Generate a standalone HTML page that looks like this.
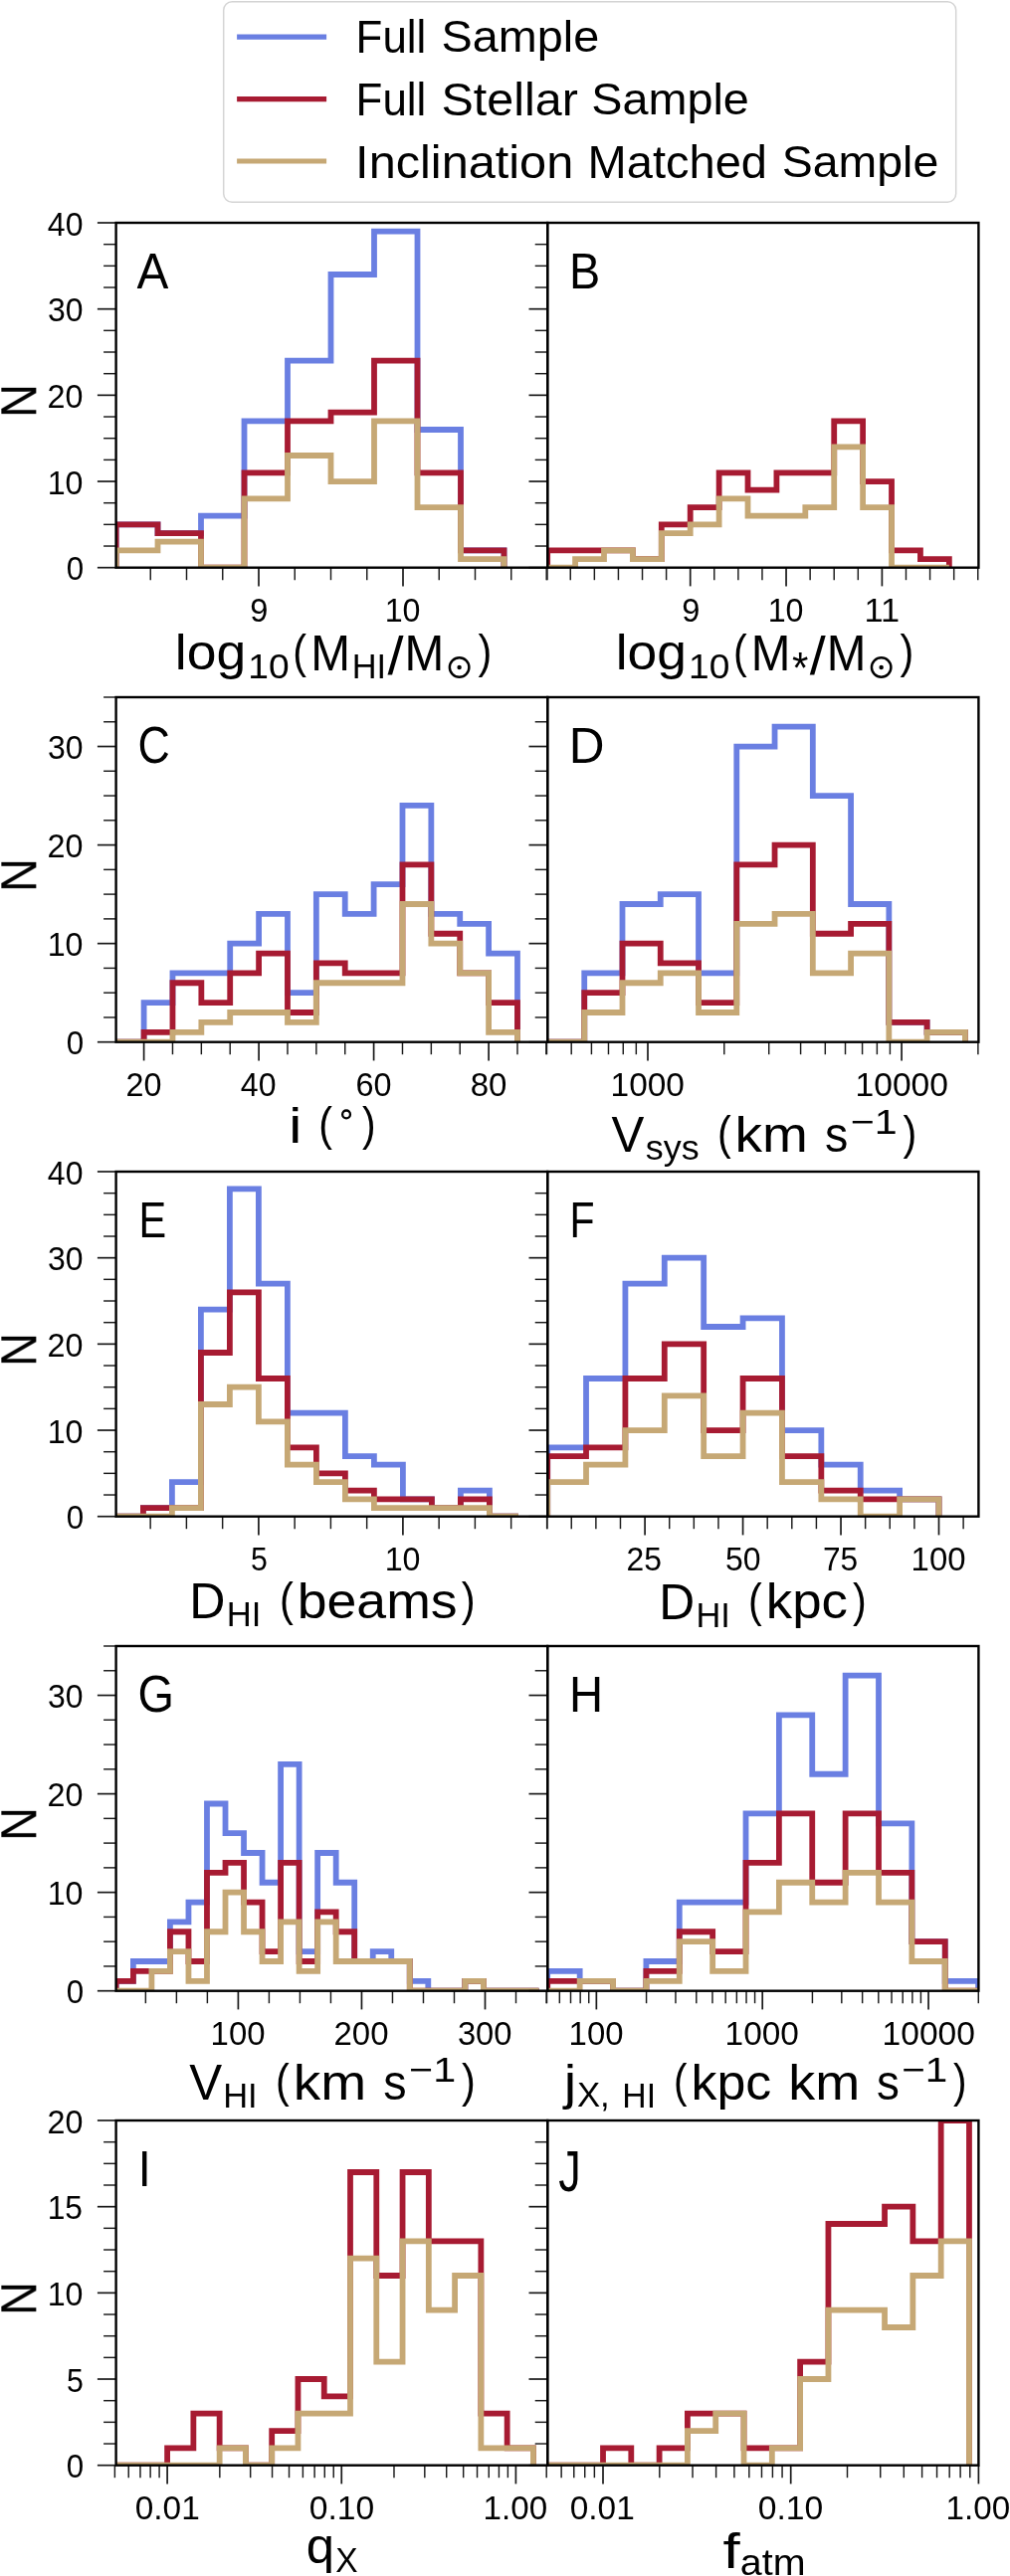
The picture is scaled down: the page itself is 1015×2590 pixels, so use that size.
<!DOCTYPE html>
<html><head><meta charset="utf-8"><title>Histograms</title>
<style>html,body{margin:0;padding:0;background:#fff;}svg{display:block;}text{font-family:"Liberation Sans",sans-serif;font-kerning:normal;}</style></head>
<body>
<svg width="1015" height="2590" viewBox="0 0 1015 2590">
<rect x="0" y="0" width="1015" height="2590" fill="#fff"/>
<defs>
<clipPath id="cA"><rect x="116.6" y="224" width="433.6" height="346.7"/></clipPath>
<clipPath id="cB"><rect x="550.2" y="224" width="433.2" height="346.7"/></clipPath>
<clipPath id="cC"><rect x="116.6" y="701" width="433.6" height="346.7"/></clipPath>
<clipPath id="cD"><rect x="550.2" y="701" width="433.2" height="346.7"/></clipPath>
<clipPath id="cE"><rect x="116.6" y="1178" width="433.6" height="346.7"/></clipPath>
<clipPath id="cF"><rect x="550.2" y="1178" width="433.2" height="346.7"/></clipPath>
<clipPath id="cG"><rect x="116.6" y="1655" width="433.6" height="346.7"/></clipPath>
<clipPath id="cH"><rect x="550.2" y="1655" width="433.2" height="346.7"/></clipPath>
<clipPath id="cI"><rect x="116.6" y="2132" width="433.6" height="346.7"/></clipPath>
<clipPath id="cJ"><rect x="550.2" y="2132" width="433.2" height="346.7"/></clipPath>
</defs>
<rect x="224.7" y="1.8" width="736" height="201.4" rx="8.5" ry="8.5" fill="#fff" stroke="#d4d4d4" stroke-width="1.5"/>
<line x1="238.1" y1="37.1" x2="328.1" y2="37.1" stroke="#6A7FE2" stroke-width="5.2"/>
<line x1="238.1" y1="99.7" x2="328.1" y2="99.7" stroke="#A71B32" stroke-width="5.2"/>
<line x1="238.1" y1="162" x2="328.1" y2="162" stroke="#C6A875" stroke-width="5.2"/>
<g clip-path="url(#cA)" fill="none" stroke-width="5.8" stroke-linejoin="miter" stroke-miterlimit="10" stroke-linecap="butt">
<path d="M116.6 570.7 L116.6 527.36 L158.5 527.36 L158.5 536.03 L202 536.03 L202 518.7 L245.5 518.7 L245.5 423.35 L289 423.35 L289 362.68 L332.5 362.68 L332.5 276.01 L376 276.01 L376 232.67 L419.5 232.67 L419.5 432.02 L463 432.02 L463 553.37 L506.5 553.37 L506.5 570.7" stroke="#6A7FE2"/>
<path d="M116.6 570.7 L116.6 527.36 L158.5 527.36 L158.5 536.03 L202 536.03 L202 570.7 L245.5 570.7 L245.5 475.36 L289 475.36 L289 423.35 L332.5 423.35 L332.5 414.69 L376 414.69 L376 362.68 L419.5 362.68 L419.5 475.36 L463 475.36 L463 553.37 L506.5 553.37 L506.5 570.7" stroke="#A71B32"/>
<path d="M116.6 570.7 L116.6 553.37 L158.5 553.37 L158.5 544.7 L202 544.7 L202 570.7 L245.5 570.7 L245.5 501.36 L289 501.36 L289 458.02 L332.5 458.02 L332.5 484.03 L376 484.03 L376 423.35 L419.5 423.35 L419.5 510.03 L463 510.03 L463 562.03 L506.5 562.03 L506.5 570.7" stroke="#C6A875"/>
</g>
<g clip-path="url(#cB)" fill="none" stroke-width="5.8" stroke-linejoin="miter" stroke-miterlimit="10" stroke-linecap="butt">
<path d="M550.2 570.7 L550.2 553.37 L578.08 553.37 L606.99 553.37 L635.89 553.37 L635.89 562.03 L664.79 562.03 L664.79 527.36 L693.7 527.36 L693.7 510.03 L722.61 510.03 L722.61 475.36 L751.51 475.36 L751.51 492.69 L780.42 492.69 L780.42 475.36 L809.32 475.36 L838.23 475.36 L838.23 423.35 L867.13 423.35 L867.13 484.03 L896.03 484.03 L896.03 553.37 L924.94 553.37 L924.94 562.03 L953.85 562.03 L953.85 570.7" stroke="#A71B32"/>
<path d="M550.2 570.7 L578.08 570.7 L578.08 562.03 L606.99 562.03 L606.99 553.37 L635.89 553.37 L635.89 562.03 L664.79 562.03 L664.79 536.03 L693.7 536.03 L693.7 527.36 L722.61 527.36 L722.61 501.36 L751.51 501.36 L751.51 518.7 L780.42 518.7 L809.32 518.7 L809.32 510.03 L838.23 510.03 L838.23 449.36 L867.13 449.36 L867.13 510.03 L896.03 510.03 L896.03 570.7 L924.94 570.7 L953.85 570.7" stroke="#C6A875"/>
</g>
<g clip-path="url(#cC)" fill="none" stroke-width="5.8" stroke-linejoin="miter" stroke-miterlimit="10" stroke-linecap="butt">
<path d="M116.6 1047.7 L144.6 1047.7 L144.6 1008.08 L173.47 1008.08 L173.47 978.36 L202.35 978.36 L231.22 978.36 L231.22 948.64 L260.1 948.64 L260.1 918.93 L288.98 918.93 L288.98 998.17 L317.85 998.17 L317.85 899.11 L346.73 899.11 L346.73 918.93 L375.6 918.93 L375.6 889.21 L404.48 889.21 L404.48 809.96 L433.35 809.96 L433.35 918.93 L462.23 918.93 L462.23 928.83 L491.1 928.83 L491.1 958.55 L519.98 958.55 L519.98 1047.7" stroke="#6A7FE2"/>
<path d="M116.6 1047.7 L144.6 1047.7 L144.6 1037.79 L173.47 1037.79 L173.47 988.27 L202.35 988.27 L202.35 1008.08 L231.22 1008.08 L231.22 978.36 L260.1 978.36 L260.1 958.55 L288.98 958.55 L288.98 1017.98 L317.85 1017.98 L317.85 968.45 L346.73 968.45 L346.73 978.36 L375.6 978.36 L404.48 978.36 L404.48 869.4 L433.35 869.4 L433.35 938.74 L462.23 938.74 L462.23 978.36 L491.1 978.36 L491.1 1008.08 L519.98 1008.08 L519.98 1047.7" stroke="#A71B32"/>
<path d="M116.6 1047.7 L144.6 1047.7 L173.47 1047.7 L173.47 1037.79 L202.35 1037.79 L202.35 1027.89 L231.22 1027.89 L231.22 1017.98 L260.1 1017.98 L288.98 1017.98 L288.98 1027.89 L317.85 1027.89 L317.85 988.27 L346.73 988.27 L375.6 988.27 L404.48 988.27 L404.48 909.02 L433.35 909.02 L433.35 948.64 L462.23 948.64 L462.23 978.36 L491.1 978.36 L491.1 1037.79 L519.98 1037.79 L519.98 1047.7" stroke="#C6A875"/>
</g>
<g clip-path="url(#cD)" fill="none" stroke-width="5.8" stroke-linejoin="miter" stroke-miterlimit="10" stroke-linecap="butt">
<path d="M550.2 1047.7 L587.23 1047.7 L587.23 978.36 L625.49 978.36 L625.49 909.02 L663.75 909.02 L663.75 899.11 L702.02 899.11 L702.02 978.36 L740.29 978.36 L740.29 750.53 L778.55 750.53 L778.55 730.72 L816.82 730.72 L816.82 800.06 L855.08 800.06 L855.08 909.02 L893.35 909.02 L893.35 1027.89 L931.61 1027.89 L931.61 1037.79 L969.88 1037.79 L969.88 1047.7" stroke="#6A7FE2"/>
<path d="M550.2 1047.7 L587.23 1047.7 L587.23 998.17 L625.49 998.17 L625.49 948.64 L663.75 948.64 L663.75 968.45 L702.02 968.45 L702.02 1008.08 L740.29 1008.08 L740.29 869.4 L778.55 869.4 L778.55 849.59 L816.82 849.59 L816.82 938.74 L855.08 938.74 L855.08 928.83 L893.35 928.83 L893.35 1027.89 L931.61 1027.89 L931.61 1037.79 L969.88 1037.79 L969.88 1047.7" stroke="#A71B32"/>
<path d="M550.2 1047.7 L587.23 1047.7 L587.23 1017.98 L625.49 1017.98 L625.49 988.27 L663.75 988.27 L663.75 978.36 L702.02 978.36 L702.02 1017.98 L740.29 1017.98 L740.29 928.83 L778.55 928.83 L778.55 918.93 L816.82 918.93 L816.82 978.36 L855.08 978.36 L855.08 958.55 L893.35 958.55 L893.35 1047.7 L931.61 1047.7 L931.61 1037.79 L969.88 1037.79 L969.88 1047.7" stroke="#C6A875"/>
</g>
<g clip-path="url(#cE)" fill="none" stroke-width="5.8" stroke-linejoin="miter" stroke-miterlimit="10" stroke-linecap="butt">
<path d="M116.6 1524.7 L143.9 1524.7 L143.9 1516.03 L172.9 1516.03 L172.9 1490.03 L201.9 1490.03 L201.9 1316.68 L230.9 1316.68 L230.9 1195.34 L259.9 1195.34 L259.9 1290.68 L288.9 1290.68 L288.9 1420.69 L317.9 1420.69 L346.9 1420.69 L346.9 1464.03 L375.9 1464.03 L375.9 1472.69 L404.9 1472.69 L404.9 1507.37 L433.9 1507.37 L433.9 1516.03 L462.9 1516.03 L462.9 1498.7 L491.9 1498.7 L491.9 1524.7 L520.9 1524.7" stroke="#6A7FE2"/>
<path d="M116.6 1524.7 L143.9 1524.7 L143.9 1516.03 L172.9 1516.03 L201.9 1516.03 L201.9 1360.02 L230.9 1360.02 L230.9 1299.35 L259.9 1299.35 L259.9 1386.02 L288.9 1386.02 L288.9 1455.36 L317.9 1455.36 L317.9 1481.36 L346.9 1481.36 L346.9 1498.7 L375.9 1498.7 L375.9 1507.37 L404.9 1507.37 L433.9 1507.37 L433.9 1516.03 L462.9 1516.03 L462.9 1507.37 L491.9 1507.37 L491.9 1524.7 L520.9 1524.7" stroke="#A71B32"/>
<path d="M116.6 1524.7 L143.9 1524.7 L172.9 1524.7 L172.9 1516.03 L201.9 1516.03 L201.9 1412.02 L230.9 1412.02 L230.9 1394.69 L259.9 1394.69 L259.9 1429.36 L288.9 1429.36 L288.9 1472.69 L317.9 1472.69 L317.9 1490.03 L346.9 1490.03 L346.9 1507.37 L375.9 1507.37 L375.9 1516.03 L404.9 1516.03 L433.9 1516.03 L462.9 1516.03 L491.9 1516.03 L491.9 1524.7 L520.9 1524.7" stroke="#C6A875"/>
</g>
<g clip-path="url(#cF)" fill="none" stroke-width="5.8" stroke-linejoin="miter" stroke-miterlimit="10" stroke-linecap="butt">
<path d="M550.2 1524.7 L550.2 1455.36 L589.02 1455.36 L589.02 1386.02 L628.41 1386.02 L628.41 1290.68 L667.79 1290.68 L667.79 1264.67 L707.18 1264.67 L707.18 1334.02 L746.57 1334.02 L746.57 1325.35 L785.95 1325.35 L785.95 1438.03 L825.34 1438.03 L825.34 1472.69 L864.73 1472.69 L864.73 1498.7 L904.12 1498.7 L904.12 1507.37 L943.5 1507.37 L943.5 1524.7" stroke="#6A7FE2"/>
<path d="M550.2 1524.7 L550.2 1464.03 L589.02 1464.03 L589.02 1455.36 L628.41 1455.36 L628.41 1386.02 L667.79 1386.02 L667.79 1351.35 L707.18 1351.35 L707.18 1438.03 L746.57 1438.03 L746.57 1386.02 L785.95 1386.02 L785.95 1464.03 L825.34 1464.03 L825.34 1498.7 L864.73 1498.7 L864.73 1507.37 L904.12 1507.37 L943.5 1507.37 L943.5 1524.7" stroke="#A71B32"/>
<path d="M550.2 1524.7 L550.2 1490.03 L589.02 1490.03 L589.02 1472.69 L628.41 1472.69 L628.41 1438.03 L667.79 1438.03 L667.79 1403.36 L707.18 1403.36 L707.18 1464.03 L746.57 1464.03 L746.57 1420.69 L785.95 1420.69 L785.95 1490.03 L825.34 1490.03 L825.34 1507.37 L864.73 1507.37 L864.73 1524.7 L904.12 1524.7 L904.12 1507.37 L943.5 1507.37 L943.5 1524.7" stroke="#C6A875"/>
</g>
<g clip-path="url(#cG)" fill="none" stroke-width="5.8" stroke-linejoin="miter" stroke-miterlimit="10" stroke-linecap="butt">
<path d="M116.6 2001.7 L116.6 1991.79 L133.88 1991.79 L133.88 1971.98 L152.4 1971.98 L170.93 1971.98 L170.93 1932.36 L189.46 1932.36 L189.46 1912.55 L207.98 1912.55 L207.98 1813.49 L226.51 1813.49 L226.51 1843.21 L245.04 1843.21 L245.04 1863.02 L263.56 1863.02 L263.56 1892.74 L282.09 1892.74 L282.09 1773.87 L300.62 1773.87 L300.62 1962.08 L319.15 1962.08 L319.15 1863.02 L337.67 1863.02 L337.67 1892.74 L356.2 1892.74 L356.2 1971.98 L374.73 1971.98 L374.73 1962.08 L393.25 1962.08 L393.25 1971.98 L411.78 1971.98 L411.78 1991.79 L430.31 1991.79 L430.31 2001.7 L448.83 2001.7 L467.36 2001.7 L467.36 1991.79 L485.89 1991.79 L485.89 2001.7 L504.41 2001.7 L522.94 2001.7 L541.47 2001.7" stroke="#6A7FE2"/>
<path d="M116.6 2001.7 L116.6 1991.79 L133.88 1991.79 L133.88 1981.89 L152.4 1981.89 L170.93 1981.89 L170.93 1942.27 L189.46 1942.27 L189.46 1971.98 L207.98 1971.98 L207.98 1882.83 L226.51 1882.83 L226.51 1872.93 L245.04 1872.93 L245.04 1912.55 L263.56 1912.55 L263.56 1962.08 L282.09 1962.08 L282.09 1872.93 L300.62 1872.93 L300.62 1971.98 L319.15 1971.98 L319.15 1922.45 L337.67 1922.45 L337.67 1942.27 L356.2 1942.27 L356.2 1971.98 L374.73 1971.98 L393.25 1971.98 L411.78 1971.98 L411.78 2001.7 L430.31 2001.7 L448.83 2001.7 L467.36 2001.7 L467.36 1991.79 L485.89 1991.79 L485.89 2001.7 L504.41 2001.7 L522.94 2001.7 L541.47 2001.7" stroke="#A71B32"/>
<path d="M116.6 2001.7 L133.88 2001.7 L152.4 2001.7 L152.4 1981.89 L170.93 1981.89 L170.93 1962.08 L189.46 1962.08 L189.46 1991.79 L207.98 1991.79 L207.98 1942.27 L226.51 1942.27 L226.51 1902.64 L245.04 1902.64 L245.04 1942.27 L263.56 1942.27 L263.56 1971.98 L282.09 1971.98 L282.09 1932.36 L300.62 1932.36 L300.62 1981.89 L319.15 1981.89 L319.15 1932.36 L337.67 1932.36 L337.67 1971.98 L356.2 1971.98 L374.73 1971.98 L393.25 1971.98 L411.78 1971.98 L411.78 2001.7 L430.31 2001.7 L448.83 2001.7 L467.36 2001.7 L467.36 1991.79 L485.89 1991.79 L485.89 2001.7 L504.41 2001.7 L522.94 2001.7 L541.47 2001.7" stroke="#C6A875"/>
</g>
<g clip-path="url(#cH)" fill="none" stroke-width="5.8" stroke-linejoin="miter" stroke-miterlimit="10" stroke-linecap="butt">
<path d="M550.2 2001.7 L550.2 1981.89 L582.66 1981.89 L582.66 1991.79 L616.04 1991.79 L616.04 2001.7 L649.4 2001.7 L649.4 1971.98 L682.77 1971.98 L682.77 1912.55 L716.15 1912.55 L749.52 1912.55 L749.52 1823.4 L782.88 1823.4 L782.88 1724.34 L816.25 1724.34 L816.25 1783.77 L849.62 1783.77 L849.62 1684.72 L883 1684.72 L883 1833.3 L916.37 1833.3 L916.37 1952.17 L949.74 1952.17 L949.74 1991.79 L983.11 1991.79 L983.11 2001.7" stroke="#6A7FE2"/>
<path d="M550.2 2001.7 L550.2 1991.79 L582.66 1991.79 L616.04 1991.79 L616.04 2001.7 L649.4 2001.7 L649.4 1981.89 L682.77 1981.89 L682.77 1942.27 L716.15 1942.27 L716.15 1962.08 L749.52 1962.08 L749.52 1872.93 L782.88 1872.93 L782.88 1823.4 L816.25 1823.4 L816.25 1892.74 L849.62 1892.74 L849.62 1823.4 L883 1823.4 L883 1882.83 L916.37 1882.83 L916.37 1952.17 L949.74 1952.17 L949.74 2001.7 L983.11 2001.7" stroke="#A71B32"/>
<path d="M550.2 2001.7 L582.66 2001.7 L582.66 1991.79 L616.04 1991.79 L616.04 2001.7 L649.4 2001.7 L649.4 1991.79 L682.77 1991.79 L682.77 1952.17 L716.15 1952.17 L716.15 1981.89 L749.52 1981.89 L749.52 1922.45 L782.88 1922.45 L782.88 1892.74 L816.25 1892.74 L816.25 1912.55 L849.62 1912.55 L849.62 1882.83 L883 1882.83 L883 1912.55 L916.37 1912.55 L916.37 1971.98 L949.74 1971.98 L949.74 2001.7 L983.11 2001.7" stroke="#C6A875"/>
</g>
<g clip-path="url(#cI)" fill="none" stroke-width="5.8" stroke-linejoin="miter" stroke-miterlimit="10" stroke-linecap="butt">
<path d="M116.6 2478.7 L141.83 2478.7 L168.1 2478.7 L168.1 2461.36 L194.37 2461.36 L194.37 2426.69 L220.65 2426.69 L220.65 2461.36 L246.92 2461.36 L246.92 2478.7 L273.19 2478.7 L273.19 2444.03 L299.46 2444.03 L299.46 2392.02 L325.74 2392.02 L325.74 2409.36 L352.01 2409.36 L352.01 2184.01 L378.28 2184.01 L378.28 2288.01 L404.55 2288.01 L404.55 2184.01 L430.83 2184.01 L430.83 2253.34 L457.1 2253.34 L483.37 2253.34 L483.37 2426.69 L509.64 2426.69 L509.64 2461.36 L535.92 2461.36 L535.92 2478.7" stroke="#A71B32"/>
<path d="M116.6 2478.7 L141.83 2478.7 L168.1 2478.7 L194.37 2478.7 L220.65 2478.7 L220.65 2461.36 L246.92 2461.36 L246.92 2478.7 L273.19 2478.7 L273.19 2461.36 L299.46 2461.36 L299.46 2426.69 L325.74 2426.69 L352.01 2426.69 L352.01 2270.68 L378.28 2270.68 L378.28 2374.69 L404.55 2374.69 L404.55 2253.34 L430.83 2253.34 L430.83 2322.68 L457.1 2322.68 L457.1 2288.01 L483.37 2288.01 L483.37 2461.36 L509.64 2461.36 L535.92 2461.36 L535.92 2478.7" stroke="#C6A875"/>
</g>
<g clip-path="url(#cJ)" fill="none" stroke-width="5.8" stroke-linejoin="miter" stroke-miterlimit="10" stroke-linecap="butt">
<path d="M550.2 2478.7 L577.69 2478.7 L606 2478.7 L606 2461.36 L634.31 2461.36 L634.31 2478.7 L662.61 2478.7 L662.61 2461.36 L690.91 2461.36 L690.91 2426.69 L719.22 2426.69 L747.53 2426.69 L747.53 2461.36 L775.83 2461.36 L804.13 2461.36 L804.13 2374.69 L832.44 2374.69 L832.44 2236.01 L860.75 2236.01 L889.05 2236.01 L889.05 2218.68 L917.36 2218.68 L917.36 2253.34 L945.66 2253.34 L945.66 2132 L973.97 2132 L973.97 2478.7" stroke="#A71B32"/>
<path d="M550.2 2478.7 L577.69 2478.7 L606 2478.7 L634.31 2478.7 L662.61 2478.7 L690.91 2478.7 L690.91 2444.03 L719.22 2444.03 L719.22 2426.69 L747.53 2426.69 L747.53 2478.7 L775.83 2478.7 L775.83 2461.36 L804.13 2461.36 L804.13 2392.02 L832.44 2392.02 L832.44 2322.68 L860.75 2322.68 L889.05 2322.68 L889.05 2340.02 L917.36 2340.02 L917.36 2288.01 L945.66 2288.01 L945.66 2253.34 L973.97 2253.34 L973.97 2478.7" stroke="#C6A875"/>
</g>
<g stroke="#1a1a1a" stroke-linecap="butt">
<line x1="151.25" y1="570.7" x2="151.25" y2="583.2" stroke-width="1.45"/>
<line x1="187.5" y1="570.7" x2="187.5" y2="583.2" stroke-width="1.45"/>
<line x1="223.75" y1="570.7" x2="223.75" y2="583.2" stroke-width="1.45"/>
<line x1="296.25" y1="570.7" x2="296.25" y2="583.2" stroke-width="1.45"/>
<line x1="332.5" y1="570.7" x2="332.5" y2="583.2" stroke-width="1.45"/>
<line x1="368.75" y1="570.7" x2="368.75" y2="583.2" stroke-width="1.45"/>
<line x1="441.25" y1="570.7" x2="441.25" y2="583.2" stroke-width="1.45"/>
<line x1="477.5" y1="570.7" x2="477.5" y2="583.2" stroke-width="1.45"/>
<line x1="513.75" y1="570.7" x2="513.75" y2="583.2" stroke-width="1.45"/>
<line x1="550" y1="570.7" x2="550" y2="583.2" stroke-width="1.45"/>
<line x1="260" y1="570.7" x2="260" y2="589.4" stroke-width="1.7"/>
<line x1="405" y1="570.7" x2="405" y2="589.4" stroke-width="1.7"/>
<line x1="97.9" y1="570.7" x2="116.6" y2="570.7" stroke-width="1.7"/>
<line x1="104.1" y1="549.03" x2="116.6" y2="549.03" stroke-width="1.45"/>
<line x1="104.1" y1="527.36" x2="116.6" y2="527.36" stroke-width="1.45"/>
<line x1="104.1" y1="505.69" x2="116.6" y2="505.69" stroke-width="1.45"/>
<line x1="97.9" y1="484.03" x2="116.6" y2="484.03" stroke-width="1.7"/>
<line x1="104.1" y1="462.36" x2="116.6" y2="462.36" stroke-width="1.45"/>
<line x1="104.1" y1="440.69" x2="116.6" y2="440.69" stroke-width="1.45"/>
<line x1="104.1" y1="419.02" x2="116.6" y2="419.02" stroke-width="1.45"/>
<line x1="97.9" y1="397.35" x2="116.6" y2="397.35" stroke-width="1.7"/>
<line x1="104.1" y1="375.68" x2="116.6" y2="375.68" stroke-width="1.45"/>
<line x1="104.1" y1="354.01" x2="116.6" y2="354.01" stroke-width="1.45"/>
<line x1="104.1" y1="332.34" x2="116.6" y2="332.34" stroke-width="1.45"/>
<line x1="97.9" y1="310.68" x2="116.6" y2="310.68" stroke-width="1.7"/>
<line x1="104.1" y1="289.01" x2="116.6" y2="289.01" stroke-width="1.45"/>
<line x1="104.1" y1="267.34" x2="116.6" y2="267.34" stroke-width="1.45"/>
<line x1="104.1" y1="245.67" x2="116.6" y2="245.67" stroke-width="1.45"/>
<line x1="97.9" y1="224" x2="116.6" y2="224" stroke-width="1.7"/>
<line x1="549.18" y1="570.7" x2="549.18" y2="583.2" stroke-width="1.45"/>
<line x1="573.26" y1="570.7" x2="573.26" y2="583.2" stroke-width="1.45"/>
<line x1="597.35" y1="570.7" x2="597.35" y2="583.2" stroke-width="1.45"/>
<line x1="621.44" y1="570.7" x2="621.44" y2="583.2" stroke-width="1.45"/>
<line x1="645.53" y1="570.7" x2="645.53" y2="583.2" stroke-width="1.45"/>
<line x1="669.61" y1="570.7" x2="669.61" y2="583.2" stroke-width="1.45"/>
<line x1="717.79" y1="570.7" x2="717.79" y2="583.2" stroke-width="1.45"/>
<line x1="741.88" y1="570.7" x2="741.88" y2="583.2" stroke-width="1.45"/>
<line x1="765.96" y1="570.7" x2="765.96" y2="583.2" stroke-width="1.45"/>
<line x1="814.14" y1="570.7" x2="814.14" y2="583.2" stroke-width="1.45"/>
<line x1="838.23" y1="570.7" x2="838.23" y2="583.2" stroke-width="1.45"/>
<line x1="862.31" y1="570.7" x2="862.31" y2="583.2" stroke-width="1.45"/>
<line x1="910.49" y1="570.7" x2="910.49" y2="583.2" stroke-width="1.45"/>
<line x1="934.58" y1="570.7" x2="934.58" y2="583.2" stroke-width="1.45"/>
<line x1="958.66" y1="570.7" x2="958.66" y2="583.2" stroke-width="1.45"/>
<line x1="982.75" y1="570.7" x2="982.75" y2="583.2" stroke-width="1.45"/>
<line x1="693.7" y1="570.7" x2="693.7" y2="589.4" stroke-width="1.7"/>
<line x1="790.05" y1="570.7" x2="790.05" y2="589.4" stroke-width="1.7"/>
<line x1="886.4" y1="570.7" x2="886.4" y2="589.4" stroke-width="1.7"/>
<line x1="531.5" y1="570.7" x2="550.2" y2="570.7" stroke-width="1.7"/>
<line x1="537.7" y1="549.03" x2="550.2" y2="549.03" stroke-width="1.45"/>
<line x1="537.7" y1="527.36" x2="550.2" y2="527.36" stroke-width="1.45"/>
<line x1="537.7" y1="505.69" x2="550.2" y2="505.69" stroke-width="1.45"/>
<line x1="531.5" y1="484.03" x2="550.2" y2="484.03" stroke-width="1.7"/>
<line x1="537.7" y1="462.36" x2="550.2" y2="462.36" stroke-width="1.45"/>
<line x1="537.7" y1="440.69" x2="550.2" y2="440.69" stroke-width="1.45"/>
<line x1="537.7" y1="419.02" x2="550.2" y2="419.02" stroke-width="1.45"/>
<line x1="531.5" y1="397.35" x2="550.2" y2="397.35" stroke-width="1.7"/>
<line x1="537.7" y1="375.68" x2="550.2" y2="375.68" stroke-width="1.45"/>
<line x1="537.7" y1="354.01" x2="550.2" y2="354.01" stroke-width="1.45"/>
<line x1="537.7" y1="332.34" x2="550.2" y2="332.34" stroke-width="1.45"/>
<line x1="531.5" y1="310.68" x2="550.2" y2="310.68" stroke-width="1.7"/>
<line x1="537.7" y1="289.01" x2="550.2" y2="289.01" stroke-width="1.45"/>
<line x1="537.7" y1="267.34" x2="550.2" y2="267.34" stroke-width="1.45"/>
<line x1="537.7" y1="245.67" x2="550.2" y2="245.67" stroke-width="1.45"/>
<line x1="531.5" y1="224" x2="550.2" y2="224" stroke-width="1.7"/>
<line x1="173.47" y1="1047.7" x2="173.47" y2="1060.2" stroke-width="1.45"/>
<line x1="202.35" y1="1047.7" x2="202.35" y2="1060.2" stroke-width="1.45"/>
<line x1="231.22" y1="1047.7" x2="231.22" y2="1060.2" stroke-width="1.45"/>
<line x1="288.98" y1="1047.7" x2="288.98" y2="1060.2" stroke-width="1.45"/>
<line x1="317.85" y1="1047.7" x2="317.85" y2="1060.2" stroke-width="1.45"/>
<line x1="346.73" y1="1047.7" x2="346.73" y2="1060.2" stroke-width="1.45"/>
<line x1="404.48" y1="1047.7" x2="404.48" y2="1060.2" stroke-width="1.45"/>
<line x1="433.35" y1="1047.7" x2="433.35" y2="1060.2" stroke-width="1.45"/>
<line x1="462.23" y1="1047.7" x2="462.23" y2="1060.2" stroke-width="1.45"/>
<line x1="519.98" y1="1047.7" x2="519.98" y2="1060.2" stroke-width="1.45"/>
<line x1="548.85" y1="1047.7" x2="548.85" y2="1060.2" stroke-width="1.45"/>
<line x1="144.6" y1="1047.7" x2="144.6" y2="1066.4" stroke-width="1.7"/>
<line x1="260.1" y1="1047.7" x2="260.1" y2="1066.4" stroke-width="1.7"/>
<line x1="375.6" y1="1047.7" x2="375.6" y2="1066.4" stroke-width="1.7"/>
<line x1="491.1" y1="1047.7" x2="491.1" y2="1066.4" stroke-width="1.7"/>
<line x1="97.9" y1="1047.7" x2="116.6" y2="1047.7" stroke-width="1.7"/>
<line x1="104.1" y1="1022.94" x2="116.6" y2="1022.94" stroke-width="1.45"/>
<line x1="104.1" y1="998.17" x2="116.6" y2="998.17" stroke-width="1.45"/>
<line x1="104.1" y1="973.41" x2="116.6" y2="973.41" stroke-width="1.45"/>
<line x1="97.9" y1="948.64" x2="116.6" y2="948.64" stroke-width="1.7"/>
<line x1="104.1" y1="923.88" x2="116.6" y2="923.88" stroke-width="1.45"/>
<line x1="104.1" y1="899.11" x2="116.6" y2="899.11" stroke-width="1.45"/>
<line x1="104.1" y1="874.35" x2="116.6" y2="874.35" stroke-width="1.45"/>
<line x1="97.9" y1="849.59" x2="116.6" y2="849.59" stroke-width="1.7"/>
<line x1="104.1" y1="824.82" x2="116.6" y2="824.82" stroke-width="1.45"/>
<line x1="104.1" y1="800.06" x2="116.6" y2="800.06" stroke-width="1.45"/>
<line x1="104.1" y1="775.29" x2="116.6" y2="775.29" stroke-width="1.45"/>
<line x1="97.9" y1="750.53" x2="116.6" y2="750.53" stroke-width="1.7"/>
<line x1="104.1" y1="725.76" x2="116.6" y2="725.76" stroke-width="1.45"/>
<line x1="104.1" y1="701" x2="116.6" y2="701" stroke-width="1.45"/>
<line x1="549.49" y1="1047.7" x2="549.49" y2="1060.2" stroke-width="1.45"/>
<line x1="574.21" y1="1047.7" x2="574.21" y2="1060.2" stroke-width="1.45"/>
<line x1="594.41" y1="1047.7" x2="594.41" y2="1060.2" stroke-width="1.45"/>
<line x1="611.48" y1="1047.7" x2="611.48" y2="1060.2" stroke-width="1.45"/>
<line x1="626.28" y1="1047.7" x2="626.28" y2="1060.2" stroke-width="1.45"/>
<line x1="639.33" y1="1047.7" x2="639.33" y2="1060.2" stroke-width="1.45"/>
<line x1="727.79" y1="1047.7" x2="727.79" y2="1060.2" stroke-width="1.45"/>
<line x1="772.71" y1="1047.7" x2="772.71" y2="1060.2" stroke-width="1.45"/>
<line x1="804.59" y1="1047.7" x2="804.59" y2="1060.2" stroke-width="1.45"/>
<line x1="829.31" y1="1047.7" x2="829.31" y2="1060.2" stroke-width="1.45"/>
<line x1="849.51" y1="1047.7" x2="849.51" y2="1060.2" stroke-width="1.45"/>
<line x1="866.58" y1="1047.7" x2="866.58" y2="1060.2" stroke-width="1.45"/>
<line x1="881.38" y1="1047.7" x2="881.38" y2="1060.2" stroke-width="1.45"/>
<line x1="894.43" y1="1047.7" x2="894.43" y2="1060.2" stroke-width="1.45"/>
<line x1="982.89" y1="1047.7" x2="982.89" y2="1060.2" stroke-width="1.45"/>
<line x1="651" y1="1047.7" x2="651" y2="1066.4" stroke-width="1.7"/>
<line x1="906.1" y1="1047.7" x2="906.1" y2="1066.4" stroke-width="1.7"/>
<line x1="531.5" y1="1047.7" x2="550.2" y2="1047.7" stroke-width="1.7"/>
<line x1="537.7" y1="1022.94" x2="550.2" y2="1022.94" stroke-width="1.45"/>
<line x1="537.7" y1="998.17" x2="550.2" y2="998.17" stroke-width="1.45"/>
<line x1="537.7" y1="973.41" x2="550.2" y2="973.41" stroke-width="1.45"/>
<line x1="531.5" y1="948.64" x2="550.2" y2="948.64" stroke-width="1.7"/>
<line x1="537.7" y1="923.88" x2="550.2" y2="923.88" stroke-width="1.45"/>
<line x1="537.7" y1="899.11" x2="550.2" y2="899.11" stroke-width="1.45"/>
<line x1="537.7" y1="874.35" x2="550.2" y2="874.35" stroke-width="1.45"/>
<line x1="531.5" y1="849.59" x2="550.2" y2="849.59" stroke-width="1.7"/>
<line x1="537.7" y1="824.82" x2="550.2" y2="824.82" stroke-width="1.45"/>
<line x1="537.7" y1="800.06" x2="550.2" y2="800.06" stroke-width="1.45"/>
<line x1="537.7" y1="775.29" x2="550.2" y2="775.29" stroke-width="1.45"/>
<line x1="531.5" y1="750.53" x2="550.2" y2="750.53" stroke-width="1.7"/>
<line x1="537.7" y1="725.76" x2="550.2" y2="725.76" stroke-width="1.45"/>
<line x1="537.7" y1="701" x2="550.2" y2="701" stroke-width="1.45"/>
<line x1="151.15" y1="1524.7" x2="151.15" y2="1537.2" stroke-width="1.45"/>
<line x1="187.4" y1="1524.7" x2="187.4" y2="1537.2" stroke-width="1.45"/>
<line x1="223.65" y1="1524.7" x2="223.65" y2="1537.2" stroke-width="1.45"/>
<line x1="296.15" y1="1524.7" x2="296.15" y2="1537.2" stroke-width="1.45"/>
<line x1="332.4" y1="1524.7" x2="332.4" y2="1537.2" stroke-width="1.45"/>
<line x1="368.65" y1="1524.7" x2="368.65" y2="1537.2" stroke-width="1.45"/>
<line x1="441.15" y1="1524.7" x2="441.15" y2="1537.2" stroke-width="1.45"/>
<line x1="477.4" y1="1524.7" x2="477.4" y2="1537.2" stroke-width="1.45"/>
<line x1="513.65" y1="1524.7" x2="513.65" y2="1537.2" stroke-width="1.45"/>
<line x1="549.9" y1="1524.7" x2="549.9" y2="1537.2" stroke-width="1.45"/>
<line x1="259.9" y1="1524.7" x2="259.9" y2="1543.4" stroke-width="1.7"/>
<line x1="404.9" y1="1524.7" x2="404.9" y2="1543.4" stroke-width="1.7"/>
<line x1="97.9" y1="1524.7" x2="116.6" y2="1524.7" stroke-width="1.7"/>
<line x1="104.1" y1="1503.03" x2="116.6" y2="1503.03" stroke-width="1.45"/>
<line x1="104.1" y1="1481.36" x2="116.6" y2="1481.36" stroke-width="1.45"/>
<line x1="104.1" y1="1459.69" x2="116.6" y2="1459.69" stroke-width="1.45"/>
<line x1="97.9" y1="1438.03" x2="116.6" y2="1438.03" stroke-width="1.7"/>
<line x1="104.1" y1="1416.36" x2="116.6" y2="1416.36" stroke-width="1.45"/>
<line x1="104.1" y1="1394.69" x2="116.6" y2="1394.69" stroke-width="1.45"/>
<line x1="104.1" y1="1373.02" x2="116.6" y2="1373.02" stroke-width="1.45"/>
<line x1="97.9" y1="1351.35" x2="116.6" y2="1351.35" stroke-width="1.7"/>
<line x1="104.1" y1="1329.68" x2="116.6" y2="1329.68" stroke-width="1.45"/>
<line x1="104.1" y1="1308.01" x2="116.6" y2="1308.01" stroke-width="1.45"/>
<line x1="104.1" y1="1286.34" x2="116.6" y2="1286.34" stroke-width="1.45"/>
<line x1="97.9" y1="1264.67" x2="116.6" y2="1264.67" stroke-width="1.7"/>
<line x1="104.1" y1="1243.01" x2="116.6" y2="1243.01" stroke-width="1.45"/>
<line x1="104.1" y1="1221.34" x2="116.6" y2="1221.34" stroke-width="1.45"/>
<line x1="104.1" y1="1199.67" x2="116.6" y2="1199.67" stroke-width="1.45"/>
<line x1="97.9" y1="1178" x2="116.6" y2="1178" stroke-width="1.7"/>
<line x1="549.63" y1="1524.7" x2="549.63" y2="1537.2" stroke-width="1.45"/>
<line x1="574.25" y1="1524.7" x2="574.25" y2="1537.2" stroke-width="1.45"/>
<line x1="598.87" y1="1524.7" x2="598.87" y2="1537.2" stroke-width="1.45"/>
<line x1="623.48" y1="1524.7" x2="623.48" y2="1537.2" stroke-width="1.45"/>
<line x1="672.72" y1="1524.7" x2="672.72" y2="1537.2" stroke-width="1.45"/>
<line x1="697.33" y1="1524.7" x2="697.33" y2="1537.2" stroke-width="1.45"/>
<line x1="721.95" y1="1524.7" x2="721.95" y2="1537.2" stroke-width="1.45"/>
<line x1="771.18" y1="1524.7" x2="771.18" y2="1537.2" stroke-width="1.45"/>
<line x1="795.8" y1="1524.7" x2="795.8" y2="1537.2" stroke-width="1.45"/>
<line x1="820.42" y1="1524.7" x2="820.42" y2="1537.2" stroke-width="1.45"/>
<line x1="869.65" y1="1524.7" x2="869.65" y2="1537.2" stroke-width="1.45"/>
<line x1="894.27" y1="1524.7" x2="894.27" y2="1537.2" stroke-width="1.45"/>
<line x1="918.89" y1="1524.7" x2="918.89" y2="1537.2" stroke-width="1.45"/>
<line x1="968.12" y1="1524.7" x2="968.12" y2="1537.2" stroke-width="1.45"/>
<line x1="648.1" y1="1524.7" x2="648.1" y2="1543.4" stroke-width="1.7"/>
<line x1="746.57" y1="1524.7" x2="746.57" y2="1543.4" stroke-width="1.7"/>
<line x1="845.04" y1="1524.7" x2="845.04" y2="1543.4" stroke-width="1.7"/>
<line x1="943.5" y1="1524.7" x2="943.5" y2="1543.4" stroke-width="1.7"/>
<line x1="531.5" y1="1524.7" x2="550.2" y2="1524.7" stroke-width="1.7"/>
<line x1="537.7" y1="1503.03" x2="550.2" y2="1503.03" stroke-width="1.45"/>
<line x1="537.7" y1="1481.36" x2="550.2" y2="1481.36" stroke-width="1.45"/>
<line x1="537.7" y1="1459.69" x2="550.2" y2="1459.69" stroke-width="1.45"/>
<line x1="531.5" y1="1438.03" x2="550.2" y2="1438.03" stroke-width="1.7"/>
<line x1="537.7" y1="1416.36" x2="550.2" y2="1416.36" stroke-width="1.45"/>
<line x1="537.7" y1="1394.69" x2="550.2" y2="1394.69" stroke-width="1.45"/>
<line x1="537.7" y1="1373.02" x2="550.2" y2="1373.02" stroke-width="1.45"/>
<line x1="531.5" y1="1351.35" x2="550.2" y2="1351.35" stroke-width="1.7"/>
<line x1="537.7" y1="1329.68" x2="550.2" y2="1329.68" stroke-width="1.45"/>
<line x1="537.7" y1="1308.01" x2="550.2" y2="1308.01" stroke-width="1.45"/>
<line x1="537.7" y1="1286.34" x2="550.2" y2="1286.34" stroke-width="1.45"/>
<line x1="531.5" y1="1264.67" x2="550.2" y2="1264.67" stroke-width="1.7"/>
<line x1="537.7" y1="1243.01" x2="550.2" y2="1243.01" stroke-width="1.45"/>
<line x1="537.7" y1="1221.34" x2="550.2" y2="1221.34" stroke-width="1.45"/>
<line x1="537.7" y1="1199.67" x2="550.2" y2="1199.67" stroke-width="1.45"/>
<line x1="531.5" y1="1178" x2="550.2" y2="1178" stroke-width="1.7"/>
<line x1="146.36" y1="2001.7" x2="146.36" y2="2014.2" stroke-width="1.45"/>
<line x1="177.38" y1="2001.7" x2="177.38" y2="2014.2" stroke-width="1.45"/>
<line x1="208.39" y1="2001.7" x2="208.39" y2="2014.2" stroke-width="1.45"/>
<line x1="270.41" y1="2001.7" x2="270.41" y2="2014.2" stroke-width="1.45"/>
<line x1="301.43" y1="2001.7" x2="301.43" y2="2014.2" stroke-width="1.45"/>
<line x1="332.44" y1="2001.7" x2="332.44" y2="2014.2" stroke-width="1.45"/>
<line x1="394.46" y1="2001.7" x2="394.46" y2="2014.2" stroke-width="1.45"/>
<line x1="425.48" y1="2001.7" x2="425.48" y2="2014.2" stroke-width="1.45"/>
<line x1="456.49" y1="2001.7" x2="456.49" y2="2014.2" stroke-width="1.45"/>
<line x1="518.51" y1="2001.7" x2="518.51" y2="2014.2" stroke-width="1.45"/>
<line x1="549.52" y1="2001.7" x2="549.52" y2="2014.2" stroke-width="1.45"/>
<line x1="239.4" y1="2001.7" x2="239.4" y2="2020.4" stroke-width="1.7"/>
<line x1="363.45" y1="2001.7" x2="363.45" y2="2020.4" stroke-width="1.7"/>
<line x1="487.5" y1="2001.7" x2="487.5" y2="2020.4" stroke-width="1.7"/>
<line x1="97.9" y1="2001.7" x2="116.6" y2="2001.7" stroke-width="1.7"/>
<line x1="104.1" y1="1976.94" x2="116.6" y2="1976.94" stroke-width="1.45"/>
<line x1="104.1" y1="1952.17" x2="116.6" y2="1952.17" stroke-width="1.45"/>
<line x1="104.1" y1="1927.41" x2="116.6" y2="1927.41" stroke-width="1.45"/>
<line x1="97.9" y1="1902.64" x2="116.6" y2="1902.64" stroke-width="1.7"/>
<line x1="104.1" y1="1877.88" x2="116.6" y2="1877.88" stroke-width="1.45"/>
<line x1="104.1" y1="1853.11" x2="116.6" y2="1853.11" stroke-width="1.45"/>
<line x1="104.1" y1="1828.35" x2="116.6" y2="1828.35" stroke-width="1.45"/>
<line x1="97.9" y1="1803.59" x2="116.6" y2="1803.59" stroke-width="1.7"/>
<line x1="104.1" y1="1778.82" x2="116.6" y2="1778.82" stroke-width="1.45"/>
<line x1="104.1" y1="1754.06" x2="116.6" y2="1754.06" stroke-width="1.45"/>
<line x1="104.1" y1="1729.29" x2="116.6" y2="1729.29" stroke-width="1.45"/>
<line x1="97.9" y1="1704.53" x2="116.6" y2="1704.53" stroke-width="1.7"/>
<line x1="104.1" y1="1679.76" x2="116.6" y2="1679.76" stroke-width="1.45"/>
<line x1="104.1" y1="1655" x2="116.6" y2="1655" stroke-width="1.45"/>
<line x1="549.12" y1="2001.7" x2="549.12" y2="2014.2" stroke-width="1.45"/>
<line x1="562.33" y1="2001.7" x2="562.33" y2="2014.2" stroke-width="1.45"/>
<line x1="573.5" y1="2001.7" x2="573.5" y2="2014.2" stroke-width="1.45"/>
<line x1="583.18" y1="2001.7" x2="583.18" y2="2014.2" stroke-width="1.45"/>
<line x1="591.72" y1="2001.7" x2="591.72" y2="2014.2" stroke-width="1.45"/>
<line x1="649.58" y1="2001.7" x2="649.58" y2="2014.2" stroke-width="1.45"/>
<line x1="678.96" y1="2001.7" x2="678.96" y2="2014.2" stroke-width="1.45"/>
<line x1="699.8" y1="2001.7" x2="699.8" y2="2014.2" stroke-width="1.45"/>
<line x1="715.97" y1="2001.7" x2="715.97" y2="2014.2" stroke-width="1.45"/>
<line x1="729.18" y1="2001.7" x2="729.18" y2="2014.2" stroke-width="1.45"/>
<line x1="740.35" y1="2001.7" x2="740.35" y2="2014.2" stroke-width="1.45"/>
<line x1="750.03" y1="2001.7" x2="750.03" y2="2014.2" stroke-width="1.45"/>
<line x1="758.57" y1="2001.7" x2="758.57" y2="2014.2" stroke-width="1.45"/>
<line x1="816.43" y1="2001.7" x2="816.43" y2="2014.2" stroke-width="1.45"/>
<line x1="845.81" y1="2001.7" x2="845.81" y2="2014.2" stroke-width="1.45"/>
<line x1="866.65" y1="2001.7" x2="866.65" y2="2014.2" stroke-width="1.45"/>
<line x1="882.82" y1="2001.7" x2="882.82" y2="2014.2" stroke-width="1.45"/>
<line x1="896.03" y1="2001.7" x2="896.03" y2="2014.2" stroke-width="1.45"/>
<line x1="907.2" y1="2001.7" x2="907.2" y2="2014.2" stroke-width="1.45"/>
<line x1="916.88" y1="2001.7" x2="916.88" y2="2014.2" stroke-width="1.45"/>
<line x1="925.42" y1="2001.7" x2="925.42" y2="2014.2" stroke-width="1.45"/>
<line x1="983.28" y1="2001.7" x2="983.28" y2="2014.2" stroke-width="1.45"/>
<line x1="599.35" y1="2001.7" x2="599.35" y2="2020.4" stroke-width="1.7"/>
<line x1="766.2" y1="2001.7" x2="766.2" y2="2020.4" stroke-width="1.7"/>
<line x1="933.05" y1="2001.7" x2="933.05" y2="2020.4" stroke-width="1.7"/>
<line x1="531.5" y1="2001.7" x2="550.2" y2="2001.7" stroke-width="1.7"/>
<line x1="537.7" y1="1976.94" x2="550.2" y2="1976.94" stroke-width="1.45"/>
<line x1="537.7" y1="1952.17" x2="550.2" y2="1952.17" stroke-width="1.45"/>
<line x1="537.7" y1="1927.41" x2="550.2" y2="1927.41" stroke-width="1.45"/>
<line x1="531.5" y1="1902.64" x2="550.2" y2="1902.64" stroke-width="1.7"/>
<line x1="537.7" y1="1877.88" x2="550.2" y2="1877.88" stroke-width="1.45"/>
<line x1="537.7" y1="1853.11" x2="550.2" y2="1853.11" stroke-width="1.45"/>
<line x1="537.7" y1="1828.35" x2="550.2" y2="1828.35" stroke-width="1.45"/>
<line x1="531.5" y1="1803.59" x2="550.2" y2="1803.59" stroke-width="1.7"/>
<line x1="537.7" y1="1778.82" x2="550.2" y2="1778.82" stroke-width="1.45"/>
<line x1="537.7" y1="1754.06" x2="550.2" y2="1754.06" stroke-width="1.45"/>
<line x1="537.7" y1="1729.29" x2="550.2" y2="1729.29" stroke-width="1.45"/>
<line x1="531.5" y1="1704.53" x2="550.2" y2="1704.53" stroke-width="1.7"/>
<line x1="537.7" y1="1679.76" x2="550.2" y2="1679.76" stroke-width="1.45"/>
<line x1="537.7" y1="1655" x2="550.2" y2="1655" stroke-width="1.45"/>
<line x1="115.37" y1="2478.7" x2="115.37" y2="2491.2" stroke-width="1.45"/>
<line x1="129.24" y1="2478.7" x2="129.24" y2="2491.2" stroke-width="1.45"/>
<line x1="140.97" y1="2478.7" x2="140.97" y2="2491.2" stroke-width="1.45"/>
<line x1="151.13" y1="2478.7" x2="151.13" y2="2491.2" stroke-width="1.45"/>
<line x1="160.09" y1="2478.7" x2="160.09" y2="2491.2" stroke-width="1.45"/>
<line x1="220.83" y1="2478.7" x2="220.83" y2="2491.2" stroke-width="1.45"/>
<line x1="251.67" y1="2478.7" x2="251.67" y2="2491.2" stroke-width="1.45"/>
<line x1="273.55" y1="2478.7" x2="273.55" y2="2491.2" stroke-width="1.45"/>
<line x1="290.52" y1="2478.7" x2="290.52" y2="2491.2" stroke-width="1.45"/>
<line x1="304.39" y1="2478.7" x2="304.39" y2="2491.2" stroke-width="1.45"/>
<line x1="316.12" y1="2478.7" x2="316.12" y2="2491.2" stroke-width="1.45"/>
<line x1="326.28" y1="2478.7" x2="326.28" y2="2491.2" stroke-width="1.45"/>
<line x1="335.24" y1="2478.7" x2="335.24" y2="2491.2" stroke-width="1.45"/>
<line x1="395.98" y1="2478.7" x2="395.98" y2="2491.2" stroke-width="1.45"/>
<line x1="426.82" y1="2478.7" x2="426.82" y2="2491.2" stroke-width="1.45"/>
<line x1="448.7" y1="2478.7" x2="448.7" y2="2491.2" stroke-width="1.45"/>
<line x1="465.67" y1="2478.7" x2="465.67" y2="2491.2" stroke-width="1.45"/>
<line x1="479.54" y1="2478.7" x2="479.54" y2="2491.2" stroke-width="1.45"/>
<line x1="491.27" y1="2478.7" x2="491.27" y2="2491.2" stroke-width="1.45"/>
<line x1="501.43" y1="2478.7" x2="501.43" y2="2491.2" stroke-width="1.45"/>
<line x1="510.39" y1="2478.7" x2="510.39" y2="2491.2" stroke-width="1.45"/>
<line x1="168.1" y1="2478.7" x2="168.1" y2="2497.4" stroke-width="1.7"/>
<line x1="343.25" y1="2478.7" x2="343.25" y2="2497.4" stroke-width="1.7"/>
<line x1="518.4" y1="2478.7" x2="518.4" y2="2497.4" stroke-width="1.7"/>
<line x1="97.9" y1="2478.7" x2="116.6" y2="2478.7" stroke-width="1.7"/>
<line x1="104.1" y1="2457.03" x2="116.6" y2="2457.03" stroke-width="1.45"/>
<line x1="104.1" y1="2435.36" x2="116.6" y2="2435.36" stroke-width="1.45"/>
<line x1="104.1" y1="2413.69" x2="116.6" y2="2413.69" stroke-width="1.45"/>
<line x1="97.9" y1="2392.02" x2="116.6" y2="2392.02" stroke-width="1.7"/>
<line x1="104.1" y1="2370.36" x2="116.6" y2="2370.36" stroke-width="1.45"/>
<line x1="104.1" y1="2348.69" x2="116.6" y2="2348.69" stroke-width="1.45"/>
<line x1="104.1" y1="2327.02" x2="116.6" y2="2327.02" stroke-width="1.45"/>
<line x1="97.9" y1="2305.35" x2="116.6" y2="2305.35" stroke-width="1.7"/>
<line x1="104.1" y1="2283.68" x2="116.6" y2="2283.68" stroke-width="1.45"/>
<line x1="104.1" y1="2262.01" x2="116.6" y2="2262.01" stroke-width="1.45"/>
<line x1="104.1" y1="2240.34" x2="116.6" y2="2240.34" stroke-width="1.45"/>
<line x1="97.9" y1="2218.68" x2="116.6" y2="2218.68" stroke-width="1.7"/>
<line x1="104.1" y1="2197.01" x2="116.6" y2="2197.01" stroke-width="1.45"/>
<line x1="104.1" y1="2175.34" x2="116.6" y2="2175.34" stroke-width="1.45"/>
<line x1="104.1" y1="2153.67" x2="116.6" y2="2153.67" stroke-width="1.45"/>
<line x1="97.9" y1="2132" x2="116.6" y2="2132" stroke-width="1.7"/>
<line x1="549.2" y1="2478.7" x2="549.2" y2="2491.2" stroke-width="1.45"/>
<line x1="564.14" y1="2478.7" x2="564.14" y2="2491.2" stroke-width="1.45"/>
<line x1="576.77" y1="2478.7" x2="576.77" y2="2491.2" stroke-width="1.45"/>
<line x1="587.71" y1="2478.7" x2="587.71" y2="2491.2" stroke-width="1.45"/>
<line x1="597.37" y1="2478.7" x2="597.37" y2="2491.2" stroke-width="1.45"/>
<line x1="662.8" y1="2478.7" x2="662.8" y2="2491.2" stroke-width="1.45"/>
<line x1="696.03" y1="2478.7" x2="696.03" y2="2491.2" stroke-width="1.45"/>
<line x1="719.61" y1="2478.7" x2="719.61" y2="2491.2" stroke-width="1.45"/>
<line x1="737.9" y1="2478.7" x2="737.9" y2="2491.2" stroke-width="1.45"/>
<line x1="752.84" y1="2478.7" x2="752.84" y2="2491.2" stroke-width="1.45"/>
<line x1="765.47" y1="2478.7" x2="765.47" y2="2491.2" stroke-width="1.45"/>
<line x1="776.41" y1="2478.7" x2="776.41" y2="2491.2" stroke-width="1.45"/>
<line x1="786.07" y1="2478.7" x2="786.07" y2="2491.2" stroke-width="1.45"/>
<line x1="851.5" y1="2478.7" x2="851.5" y2="2491.2" stroke-width="1.45"/>
<line x1="884.73" y1="2478.7" x2="884.73" y2="2491.2" stroke-width="1.45"/>
<line x1="908.31" y1="2478.7" x2="908.31" y2="2491.2" stroke-width="1.45"/>
<line x1="926.6" y1="2478.7" x2="926.6" y2="2491.2" stroke-width="1.45"/>
<line x1="941.54" y1="2478.7" x2="941.54" y2="2491.2" stroke-width="1.45"/>
<line x1="954.17" y1="2478.7" x2="954.17" y2="2491.2" stroke-width="1.45"/>
<line x1="965.11" y1="2478.7" x2="965.11" y2="2491.2" stroke-width="1.45"/>
<line x1="974.77" y1="2478.7" x2="974.77" y2="2491.2" stroke-width="1.45"/>
<line x1="606" y1="2478.7" x2="606" y2="2497.4" stroke-width="1.7"/>
<line x1="794.7" y1="2478.7" x2="794.7" y2="2497.4" stroke-width="1.7"/>
<line x1="983.4" y1="2478.7" x2="983.4" y2="2497.4" stroke-width="1.7"/>
<line x1="531.5" y1="2478.7" x2="550.2" y2="2478.7" stroke-width="1.7"/>
<line x1="537.7" y1="2457.03" x2="550.2" y2="2457.03" stroke-width="1.45"/>
<line x1="537.7" y1="2435.36" x2="550.2" y2="2435.36" stroke-width="1.45"/>
<line x1="537.7" y1="2413.69" x2="550.2" y2="2413.69" stroke-width="1.45"/>
<line x1="531.5" y1="2392.02" x2="550.2" y2="2392.02" stroke-width="1.7"/>
<line x1="537.7" y1="2370.36" x2="550.2" y2="2370.36" stroke-width="1.45"/>
<line x1="537.7" y1="2348.69" x2="550.2" y2="2348.69" stroke-width="1.45"/>
<line x1="537.7" y1="2327.02" x2="550.2" y2="2327.02" stroke-width="1.45"/>
<line x1="531.5" y1="2305.35" x2="550.2" y2="2305.35" stroke-width="1.7"/>
<line x1="537.7" y1="2283.68" x2="550.2" y2="2283.68" stroke-width="1.45"/>
<line x1="537.7" y1="2262.01" x2="550.2" y2="2262.01" stroke-width="1.45"/>
<line x1="537.7" y1="2240.34" x2="550.2" y2="2240.34" stroke-width="1.45"/>
<line x1="531.5" y1="2218.68" x2="550.2" y2="2218.68" stroke-width="1.7"/>
<line x1="537.7" y1="2197.01" x2="550.2" y2="2197.01" stroke-width="1.45"/>
<line x1="537.7" y1="2175.34" x2="550.2" y2="2175.34" stroke-width="1.45"/>
<line x1="537.7" y1="2153.67" x2="550.2" y2="2153.67" stroke-width="1.45"/>
<line x1="531.5" y1="2132" x2="550.2" y2="2132" stroke-width="1.7"/>
</g>
<g fill="none" stroke="#000" stroke-width="2.4" stroke-linejoin="miter">
<rect x="116.6" y="224" width="433.6" height="346.7"/>
<rect x="550.2" y="224" width="433.2" height="346.7"/>
<rect x="116.6" y="701" width="433.6" height="346.7"/>
<rect x="550.2" y="701" width="433.2" height="346.7"/>
<rect x="116.6" y="1178" width="433.6" height="346.7"/>
<rect x="550.2" y="1178" width="433.2" height="346.7"/>
<rect x="116.6" y="1655" width="433.6" height="346.7"/>
<rect x="550.2" y="1655" width="433.2" height="346.7"/>
<rect x="116.6" y="2132" width="433.6" height="346.7"/>
<rect x="550.2" y="2132" width="433.2" height="346.7"/>
</g>
<g fill="#000" font-size="100" opacity="0.999">
<text transform="matrix(0.4391 0 0 0.4534 357.56 52.89)">Full</text>
<text transform="matrix(0.4678 0 0 0.4463 443.58 52.37)">Sample</text>
<text transform="matrix(0.4392 0 0 0.4534 357.56 115.89)">Full</text>
<text transform="matrix(0.4846 0 0 0.4534 443.52 115.89)">Stellar</text>
<text transform="matrix(0.468 0 0 0.4463 594.17 115.37)">Sample</text>
<text transform="matrix(0.4867 0 0 0.4534 357.12 178.89)">Inclination</text>
<text transform="matrix(0.4706 0 0 0.4534 590.61 178.89)">Matched</text>
<text transform="matrix(0.4646 0 0 0.4463 785.76 178.37)">Sample</text>
<text transform="matrix(0.3134 0 0 0.3324 66.76 582.93)">0</text>
<text transform="matrix(0.3224 0 0 0.3324 47.65 496.93)">10</text>
<text transform="matrix(0.3233 0 0 0.3324 47.55 409.93)">20</text>
<text transform="matrix(0.3196 0 0 0.3324 47.95 322.93)">30</text>
<text transform="matrix(0.3205 0 0 0.3324 47.86 236.93)">40</text>
<text transform="matrix(0 -0.47 0.5072 0 36 419.92)">N</text>
<text transform="matrix(0.3134 0 0 0.3324 66.76 1059.93)">0</text>
<text transform="matrix(0.3224 0 0 0.3324 47.65 960.93)">10</text>
<text transform="matrix(0.3233 0 0 0.3324 47.55 861.93)">20</text>
<text transform="matrix(0.3196 0 0 0.3324 47.95 762.93)">30</text>
<text transform="matrix(0 -0.47 0.5072 0 36 896.92)">N</text>
<text transform="matrix(0.3134 0 0 0.3324 66.76 1536.93)">0</text>
<text transform="matrix(0.3224 0 0 0.3324 47.65 1450.93)">10</text>
<text transform="matrix(0.3233 0 0 0.3324 47.55 1363.93)">20</text>
<text transform="matrix(0.3196 0 0 0.3324 47.95 1276.93)">30</text>
<text transform="matrix(0.3205 0 0 0.3324 47.86 1190.93)">40</text>
<text transform="matrix(0 -0.47 0.5072 0 36 1373.92)">N</text>
<text transform="matrix(0.3134 0 0 0.3324 66.76 2013.93)">0</text>
<text transform="matrix(0.3224 0 0 0.3324 47.65 1914.93)">10</text>
<text transform="matrix(0.3233 0 0 0.3324 47.55 1815.93)">20</text>
<text transform="matrix(0.3196 0 0 0.3324 47.95 1716.93)">30</text>
<text transform="matrix(0 -0.47 0.5072 0 36 1850.92)">N</text>
<text transform="matrix(0.3134 0 0 0.3324 66.76 2490.93)">0</text>
<text transform="matrix(0.3029 0 0 0.3312 67.01 2404.73)">5</text>
<text transform="matrix(0.3224 0 0 0.3324 47.65 2317.93)">10</text>
<text transform="matrix(0.3177 0 0 0.3312 47.68 2230.73)">15</text>
<text transform="matrix(0.3233 0 0 0.3324 47.55 2144.93)">20</text>
<text transform="matrix(0 -0.47 0.5072 0 36 2327.92)">N</text>
<text transform="matrix(0.3269 0 0 0.3324 251.32 625.03)">9</text>
<text transform="matrix(0.3224 0 0 0.3324 386.65 625.03)">10</text>
<text transform="matrix(0.5352 0 0 0.4942 175.75 673.34)">log</text>
<text transform="matrix(0.3717 0 0 0.3579 249.25 681.73)">10</text>
<text transform="matrix(0.4134 0 0 0.4548 294.2 670.52)">(</text>
<text transform="matrix(0.4774 0 0 0.5071 312.16 673.74)">M</text>
<text transform="matrix(0.344 0 0 0.355 353.65 681.61)">HI</text>
<text transform="matrix(0.577 0 0 0.5403 389.56 678.19)">/</text>
<text transform="matrix(0.4774 0 0 0.5071 406.6 673.74)">M</text>
<circle cx="461.61" cy="671.06" r="9.77" fill="none" stroke="#000" stroke-width="2.46"/>
<circle cx="461.61" cy="671.06" r="2.22"/>
<text transform="matrix(0.4134 0 0 0.4548 480.41 670.52)">)</text>
<text transform="matrix(0.478 0 0 0.5071 137.61 290)">A</text>
<text transform="matrix(0.3269 0 0 0.3324 685.32 625.03)">9</text>
<text transform="matrix(0.3224 0 0 0.3324 771.65 625.03)">10</text>
<text transform="matrix(0.3437 0 0 0.3296 868.47 624.94)">11</text>
<text transform="matrix(0.5341 0 0 0.4942 618.76 673.34)">log</text>
<text transform="matrix(0.3709 0 0 0.3579 692.1 681.73)">10</text>
<text transform="matrix(0.4125 0 0 0.4548 736.95 670.52)">(</text>
<text transform="matrix(0.4763 0 0 0.5071 754.87 673.74)">M</text>
<text transform="matrix(0.4215 0 0 0.4378 795.88 686.88)">*</text>
<text transform="matrix(0.5757 0 0 0.5403 813.78 678.19)">/</text>
<text transform="matrix(0.4763 0 0 0.5071 830.78 673.74)">M</text>
<circle cx="885.67" cy="671.06" r="9.74" fill="none" stroke="#000" stroke-width="2.46"/>
<circle cx="885.67" cy="671.06" r="2.22"/>
<text transform="matrix(0.4125 0 0 0.4548 904.43 670.52)">)</text>
<text transform="matrix(0.4681 0 0 0.5071 572.09 290)">B</text>
<text transform="matrix(0.3233 0 0 0.3324 126.55 1102.03)">20</text>
<text transform="matrix(0.3205 0 0 0.3324 241.86 1102.03)">40</text>
<text transform="matrix(0.3241 0 0 0.3324 357.46 1102.03)">60</text>
<text transform="matrix(0.3305 0 0 0.3324 472.69 1102.03)">80</text>
<text transform="matrix(0.5875 0 0 0.4996 290.19 1149.37)">i</text>
<text transform="matrix(0.4115 0 0 0.4548 320.33 1146.15)">(</text>
<circle cx="348.05" cy="1120.42" r="3.91" fill="none" stroke="#000" stroke-width="2.28"/>
<text transform="matrix(0.4077 0 0 0.4548 363.99 1146.15)">)</text>
<text transform="matrix(0.447 0 0 0.5113 138.6 767.14)">C</text>
<text transform="matrix(0.3344 0 0 0.3324 613.55 1102.03)">1000</text>
<text transform="matrix(0.3362 0 0 0.3324 859.53 1102.03)">10000</text>
<text transform="matrix(0.4927 0 0 0.5071 614.61 1158)">V</text>
<text transform="matrix(0.3593 0 0 0.3441 648.73 1165.64)">sys</text>
<text transform="matrix(0.4133 0 0 0.4548 721.01 1154.78)">(</text>
<text transform="matrix(0.5504 0 0 0.4996 738.58 1158)">km</text>
<text transform="matrix(0.4661 0 0 0.5011 828.99 1158.18)">s</text>
<text transform="matrix(0.4118 0 0 0.355 854.73 1139.63)">−1</text>
<text transform="matrix(0.4133 0 0 0.4548 907.44 1154.78)">)</text>
<text transform="matrix(0.4955 0 0 0.5071 571.87 767)">D</text>
<text transform="matrix(0.3029 0 0 0.3312 252.01 1578.83)">5</text>
<text transform="matrix(0.3224 0 0 0.3324 386.65 1579.03)">10</text>
<text transform="matrix(0.5016 0 0 0.5071 190.29 1627.3)">D</text>
<text transform="matrix(0.3465 0 0 0.355 227.76 1635.17)">HI</text>
<text transform="matrix(0.4163 0 0 0.4548 280.93 1624.07)">(</text>
<text transform="matrix(0.536 0 0 0.502 298.76 1627.47)">beams</text>
<text transform="matrix(0.4163 0 0 0.4548 463.76 1624.07)">)</text>
<text transform="matrix(0.4147 0 0 0.5071 139.51 1244)">E</text>
<text transform="matrix(0.3187 0 0 0.3324 629.57 1579.03)">25</text>
<text transform="matrix(0.3196 0 0 0.3324 728.95 1579.02)">50</text>
<text transform="matrix(0.3168 0 0 0.3312 826.91 1578.83)">75</text>
<text transform="matrix(0.3293 0 0 0.3324 915.59 1579.03)">100</text>
<text transform="matrix(0.4975 0 0 0.5071 662.22 1627.74)">D</text>
<text transform="matrix(0.3436 0 0 0.355 699.38 1635.62)">HI</text>
<text transform="matrix(0.4129 0 0 0.4548 752.11 1624.52)">(</text>
<text transform="matrix(0.5284 0 0 0.4942 769.81 1627.35)">kpc</text>
<text transform="matrix(0.4129 0 0 0.4548 857.05 1624.52)">)</text>
<text transform="matrix(0.4102 0 0 0.5071 572.55 1244)">F</text>
<text transform="matrix(0.3293 0 0 0.3324 211.59 2056.03)">100</text>
<text transform="matrix(0.3298 0 0 0.3324 335.52 2056.03)">200</text>
<text transform="matrix(0.3273 0 0 0.3324 459.92 2056.03)">300</text>
<text transform="matrix(0.4938 0 0 0.5071 190.21 2111.1)">V</text>
<text transform="matrix(0.3447 0 0 0.355 224.2 2118.97)">HI</text>
<text transform="matrix(0.4142 0 0 0.4548 277.09 2107.87)">(</text>
<text transform="matrix(0.5515 0 0 0.4996 294.7 2111.1)">km</text>
<text transform="matrix(0.467 0 0 0.5011 385.3 2111.28)">s</text>
<text transform="matrix(0.4126 0 0 0.355 411.09 2092.72)">−1</text>
<text transform="matrix(0.4142 0 0 0.4548 463.92 2107.87)">)</text>
<text transform="matrix(0.4687 0 0 0.5113 138.5 1721.14)">G</text>
<text transform="matrix(0.3293 0 0 0.3324 571.59 2056.03)">100</text>
<text transform="matrix(0.3344 0 0 0.3324 728.55 2056.03)">1000</text>
<text transform="matrix(0.3362 0 0 0.3324 886.53 2056.03)">10000</text>
<text transform="matrix(0.5594 0 0 0.4942 566.72 2110.75)">j</text>
<text transform="matrix(0.3474 0 0 0.3463 579.91 2118.42)">X,</text>
<text transform="matrix(0.3375 0 0 0.355 625.3 2119.02)">HI</text>
<text transform="matrix(0.4055 0 0 0.4548 677.09 2107.92)">(</text>
<text transform="matrix(0.5191 0 0 0.4942 694.47 2110.75)">kpc</text>
<text transform="matrix(0.54 0 0 0.4996 792.26 2111.14)">km</text>
<text transform="matrix(0.4573 0 0 0.5011 880.97 2111.32)">s</text>
<text transform="matrix(0.404 0 0 0.355 906.22 2092.77)">−1</text>
<text transform="matrix(0.4055 0 0 0.4548 957.95 2107.92)">)</text>
<text transform="matrix(0.4727 0 0 0.5071 572.05 1721)">H</text>
<text transform="matrix(0.3342 0 0 0.3324 135.67 2533.03)">0.01</text>
<text transform="matrix(0.3368 0 0 0.3324 310.66 2533.03)">0.10</text>
<text transform="matrix(0.332 0 0 0.3324 485.57 2533.03)">1.00</text>
<text transform="matrix(0.5085 0 0 0.4916 307.7 2577.38)">q</text>
<text transform="matrix(0.3353 0 0 0.355 337.29 2585.59)">X</text>
<text transform="matrix(0.4671 0 0 0.5071 138.63 2198)">I</text>
<text transform="matrix(0.3342 0 0 0.3324 572.67 2533.03)">0.01</text>
<text transform="matrix(0.3368 0 0 0.3324 761.66 2533.03)">0.10</text>
<text transform="matrix(0.332 0 0 0.3324 950.57 2533.03)">1.00</text>
<text transform="matrix(0.6179 0 0 0.5065 726.45 2581.57)">f</text>
<text transform="matrix(0.3944 0 0 0.3703 743.74 2589.04)">atm</text>
<text transform="matrix(0.45 0 0 0.58 561.15 2203.22)">J</text>
</g>
</svg>
</body></html>
